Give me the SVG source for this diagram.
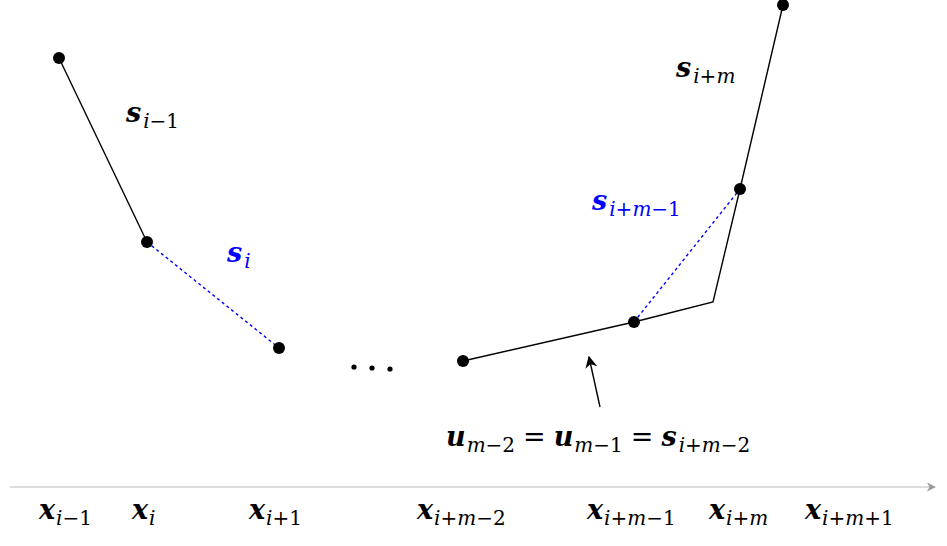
<svg xmlns="http://www.w3.org/2000/svg" width="947" height="546" viewBox="0 0 947 546">
<style>
.ln{stroke:#000;stroke-width:1.4;fill:none}
.dash{stroke:#0000ff;stroke-width:1.4;fill:none;stroke-dasharray:3,3}
.dot{fill:#000}
.m{font-family:"DejaVu Serif","Liberation Serif",serif;font-style:italic;font-weight:bold;font-size:27px;fill:#000}
.blue{fill:#0000ff}
.sb{font-weight:normal;font-size:20px;font-style:italic}
.sr{font-weight:normal;font-size:20px;font-style:normal}
.eq{font-weight:normal;font-style:normal}
</style>
<defs>
<marker id="ah" viewBox="0 0 10 10" refX="9" refY="5" markerWidth="12" markerHeight="12" markerUnits="userSpaceOnUse" orient="auto"><path d="M0,0 L10,5 L0,10 L3,5 Z" fill="#000"/></marker>
<marker id="ahg" viewBox="0 0 10 10" refX="9" refY="5" markerWidth="9" markerHeight="9" markerUnits="userSpaceOnUse" orient="auto"><path d="M0,0 L10,5 L0,10 L3,5 Z" fill="#999"/></marker>
</defs>
<g id="connectors">
<line class="ln" x1="59" y1="58" x2="147" y2="242"/>
<line class="dash" x1="147" y1="242" x2="279" y2="348"/>
<polyline class="ln" points="463,361 634,322 713,302 740,189 783,5"/>
<line class="dash" x1="634" y1="322" x2="740" y2="189"/>
<line class="ln" x1="600" y1="407" x2="589" y2="357" marker-end="url(#ah)"/>
<line x1="10" y1="487" x2="935" y2="487" stroke="#bbb" stroke-width="1.2" marker-end="url(#ahg)"/>
</g>
<g id="p1"><circle class="dot" cx="59" cy="58" r="6"/></g>
<g id="p2"><circle class="dot" cx="147" cy="242" r="6"/></g>
<g id="p3"><circle class="dot" cx="279" cy="348" r="6"/></g>
<g id="ellipsis"><circle class="dot" cx="354" cy="367" r="2.6"/><circle class="dot" cx="372" cy="368" r="2.6"/><circle class="dot" cx="390" cy="369" r="2.6"/></g>
<g id="p4"><circle class="dot" cx="463" cy="361" r="6"/></g>
<g id="p5"><circle class="dot" cx="634" cy="322" r="6"/></g>
<g id="p6"><circle class="dot" cx="740" cy="189" r="6"/></g>
<g id="p7"><circle class="dot" cx="783" cy="5" r="6"/></g>
<g id="segment-labels">
<text class="m" x="126" y="122">s<tspan class="sb" dx="2" dy="6">i</tspan><tspan class="sr">−1</tspan></text>
<text class="m blue" x="227" y="262">s<tspan class="sb" dx="2" dy="6">i</tspan></text>
<text class="m blue" x="592" y="210">s<tspan class="sb" dx="2" dy="6">i</tspan><tspan class="sr">+</tspan><tspan class="sb">m</tspan><tspan class="sr">−1</tspan></text>
<text class="m" x="676" y="77">s<tspan class="sb" dx="2" dy="6">i</tspan><tspan class="sr">+</tspan><tspan class="sb">m</tspan></text>
<text class="m" x="446" y="446">u<tspan class="sb" dx="1" dy="6">m</tspan><tspan class="sr">−2</tspan><tspan class="eq" dx="8" dy="-6">=</tspan><tspan dx="8">u</tspan><tspan class="sb" dx="1" dy="6">m</tspan><tspan class="sr">−1</tspan><tspan class="eq" dx="8" dy="-6">=</tspan><tspan dx="8">s</tspan><tspan class="sb" dx="2" dy="6">i</tspan><tspan class="sr">+</tspan><tspan class="sb">m</tspan><tspan class="sr">−2</tspan></text>
</g>
<g id="axis-labels">
<text class="m" x="39" y="519">x<tspan class="sb" dx="1" dy="6">i</tspan><tspan class="sr">−1</tspan></text>
<text class="m" x="132" y="519">x<tspan class="sb" dx="1" dy="6">i</tspan></text>
<text class="m" x="249" y="519">x<tspan class="sb" dx="1" dy="6">i</tspan><tspan class="sr">+1</tspan></text>
<text class="m" x="417" y="519">x<tspan class="sb" dx="1" dy="6">i</tspan><tspan class="sr">+</tspan><tspan class="sb">m</tspan><tspan class="sr">−2</tspan></text>
<text class="m" x="587" y="519">x<tspan class="sb" dx="1" dy="6">i</tspan><tspan class="sr">+</tspan><tspan class="sb">m</tspan><tspan class="sr">−1</tspan></text>
<text class="m" x="709" y="519">x<tspan class="sb" dx="1" dy="6">i</tspan><tspan class="sr">+</tspan><tspan class="sb">m</tspan></text>
<text class="m" x="805" y="519">x<tspan class="sb" dx="1" dy="6">i</tspan><tspan class="sr">+</tspan><tspan class="sb">m</tspan><tspan class="sr">+1</tspan></text>
</g>
</svg>
